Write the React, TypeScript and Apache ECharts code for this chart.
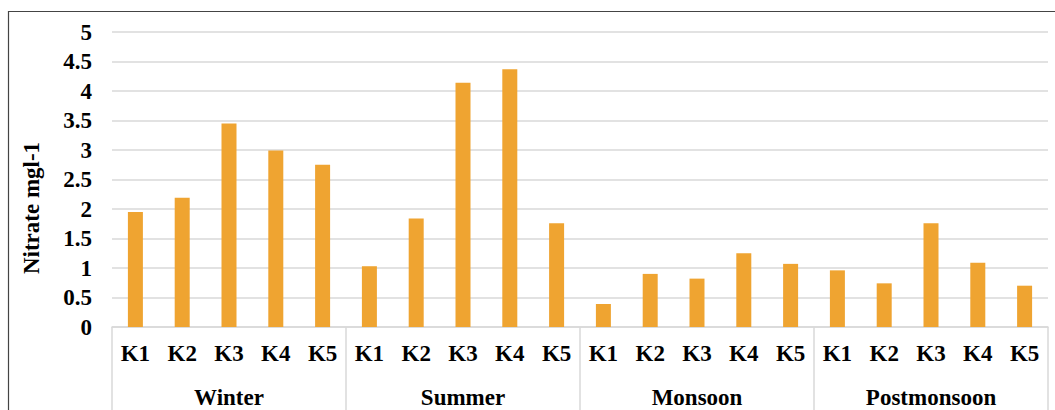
import React, { useEffect, useRef } from "react";
import * as echarts from "echarts";

// Sampling stations and seasons
const stations = ["K1", "K2", "K3", "K4", "K5"];
const seasons = ["Winter", "Summer", "Monsoon", "Postmonsoon"];

// Nitrate concentration (mg/l) per station, by season
const winter = [1.95, 2.19, 3.45, 2.99, 2.75];
const summer = [1.03, 1.84, 4.14, 4.37, 1.76];
const monsoon = [0.39, 0.9, 0.82, 1.25, 1.07];
const postmonsoon = [0.96, 0.74, 1.76, 1.09, 0.7];

const yTicks = { min: 0, max: 5, interval: 0.5 };

const FONT = "Liberation Serif";
const SIZE = 23;

export default function App() {
  const ref = useRef<HTMLDivElement>(null);

  useEffect(() => {
    if (!ref.current) return;
    const chart = echarts.init(ref.current, undefined, { renderer: "svg" });

    const categories: string[] = [];
    seasons.forEach(() => stations.forEach((s) => categories.push(s)));
    const values = [...winter, ...summer, ...monsoon, ...postmonsoon];

    chart.setOption({
      animation: false,
      backgroundColor: "#ffffff",
      grid: { left: 112, right: 7, top: 32, bottom: 83, containLabel: false },
      xAxis: [
        {
          type: "category",
          data: categories,
          position: "bottom",
          axisLine: { show: true, lineStyle: { color: "#d9d9d9", width: 1.5 } },
          axisTick: { show: false },
          axisLabel: {
            interval: 0,
            margin: 15,
            color: "#000",
            fontFamily: FONT,
            fontWeight: "bold",
            fontSize: SIZE,
          },
          splitLine: { show: false },
        },
        {
          type: "category",
          data: seasons,
          position: "bottom",
          boundaryGap: true,
          axisLine: { show: false },
          axisTick: {
            show: true,
            interval: 0,
            length: 95,
            lineStyle: { color: "#d9d9d9", width: 1.5 },
          },
          axisLabel: {
            interval: 0,
            margin: 59,
            color: "#000",
            fontFamily: FONT,
            fontWeight: "bold",
            fontSize: SIZE,
          },
          splitLine: { show: false },
        },
      ],
      yAxis: {
        type: "value",
        min: yTicks.min,
        max: yTicks.max,
        interval: yTicks.interval,
        axisLine: { show: false },
        axisTick: { show: false },
        axisLabel: {
          margin: 20,
          color: "#000",
          fontFamily: FONT,
          fontWeight: "bold",
          fontSize: SIZE,
        },
        splitLine: { show: true, lineStyle: { color: "#d9d9d9", width: 1.5 } },
      },
      series: [
        {
          type: "bar",
          xAxisIndex: 0,
          data: values,
          barWidth: 15,
          itemStyle: { color: "#EFA431" },
        },
      ],
      graphic: [
        {
          type: "rect",
          shape: { x: 8.5, y: 11.5, width: 1200, height: 600 },
          style: { fill: "none", stroke: "#444", lineWidth: 1.2 },
          silent: true,
          z: 100,
        },
        {
          type: "text",
          x: 31,
          y: 208,
          rotation: Math.PI / 2,
          style: {
            text: "Nitrate mgl-1",
            fill: "#000",
            font: `bold ${SIZE}px "${FONT}"`,
            textAlign: "center",
            textVerticalAlign: "middle",
          },
        },
      ],
    });

    return () => chart.dispose();
  }, []);

  return (
    <div
      ref={ref}
      style={{ position: "fixed", left: 0, top: 0, width: 1055, height: 410 }}
    />
  );
}
